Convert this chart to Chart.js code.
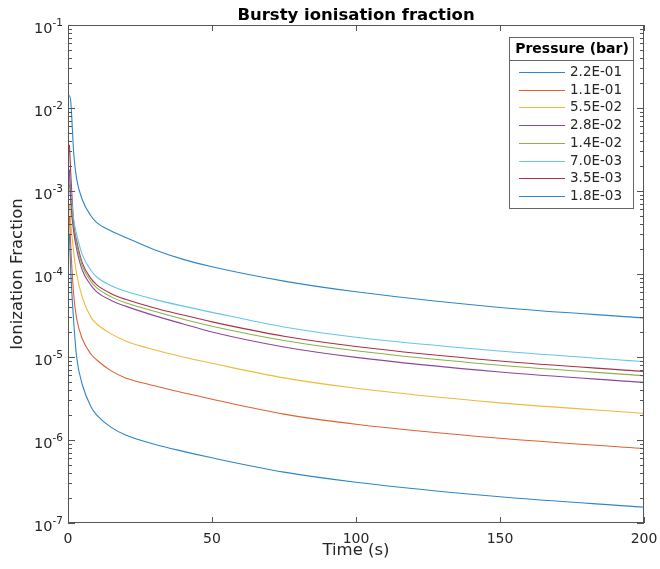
<!DOCTYPE html>
<html>
<head>
<meta charset="utf-8">
<script src="https://cdn.jsdelivr.net/npm/chart.js@4.4.1/dist/chart.umd.min.js"></script>
<style>
  html, body { margin: 0; padding: 0; background: #fff; }
  #wrap { width: 660px; height: 569px; }
</style>
</head>
<body>
<div id="wrap"><canvas id="ionChart" width="660" height="569"></canvas></div>
<script>
// time axis (s)
const times = [0, 0.5, 1, 2, 3, 5, 8, 10, 15, 20, 30, 40, 50, 75, 100, 150, 200];

// ionisation fraction per pressure
const p22e1 = [null, 3e-4, 1e-4, 2.6e-5, 1.0e-5, 4.6e-6, 2.5e-6, 2.0e-6, 1.42e-6, 1.15e-6, 8.9e-7, 7.3e-7, 6.1e-7, 4.1e-7, 3.1e-7, 2.07e-7, 1.55e-7];
const p11e1 = [null, 5e-4, 2e-4, 5.5e-5, 2.9e-5, 1.65e-5, 1.08e-5, 9.2e-6, 6.8e-6, 5.6e-6, 4.5e-6, 3.7e-6, 3.1e-6, 2.05e-6, 1.55e-6, 1.05e-6, 7.88e-7];
const p55e2 = [null, 7e-4, 4e-4, 1.8e-4, 1.0e-4, 5.2e-5, 3.0e-5, 2.5e-5, 1.9e-5, 1.56e-5, 1.22e-5, 1.0e-5, 8.4e-6, 5.6e-6, 4.2e-6, 2.8e-6, 2.09e-6];
const p28e2 = [null, 1.8e-3, 7e-4, 3.2e-4, 2.0e-4, 1.1e-4, 7.3e-5, 6.1e-5, 4.8e-5, 4.1e-5, 3.15e-5, 2.5e-5, 2.0e-5, 1.32e-5, 9.9e-6, 6.6e-6, 4.94e-6];
const p14e2 = [null, 1.2e-3, 8e-4, 3.6e-4, 2.3e-4, 1.25e-4, 8.1e-5, 6.8e-5, 5.3e-5, 4.5e-5, 3.55e-5, 2.85e-5, 2.35e-5, 1.58e-5, 1.19e-5, 7.95e-6, 5.95e-6];
const p70e3 = [null, 1.8e-3, 1.0e-3, 4.5e-4, 3.0e-4, 1.7e-4, 1.1e-4, 9.2e-5, 7.2e-5, 6.2e-5, 4.95e-5, 4.1e-5, 3.45e-5, 2.3e-5, 1.73e-5, 1.18e-5, 8.8e-6];
const p35e3 = [null, 3.6e-3, 1.5e-3, 4.0e-4, 2.5e-4, 1.35e-4, 8.8e-5, 7.4e-5, 5.8e-5, 4.95e-5, 3.9e-5, 3.2e-5, 2.65e-5, 1.78e-5, 1.34e-5, 8.95e-6, 6.7e-6];
const p18e3 = [1.4e-2, 1.4e-2, 1.15e-2, 2.8e-3, 1.4e-3, 7.8e-4, 5.0e-4, 4.15e-4, 3.3e-4, 2.76e-4, 1.96e-4, 1.5e-4, 1.22e-4, 8.2e-5, 6.1e-5, 3.95e-5, 2.96e-5];

const pressureLabels = ['2.2E-01', '1.1E-01', '5.5E-02', '2.8E-02', '1.4E-02', '7.0E-03', '3.5E-03', '1.8E-03'];
const seriesValues = [p22e1, p11e1, p55e2, p28e2, p14e2, p70e3, p35e3, p18e3];
const seriesColors = ['#2f85c8', '#dc6333', '#eeba3c', '#8e479b', '#85b545', '#63c5ee', '#ab3048', '#2f85c8'];

const xTicks = [0, 50, 100, 150, 200];
const yDecades = [1e-7, 1e-6, 1e-5, 1e-4, 1e-3, 1e-2, 1e-1];

const axisColor = '#555';
const textColor = '#262626';
const fontFamily = '"DejaVu Sans", sans-serif';

// box, inward ticks, power-of-ten labels, title and legend, MATLAB style
const matlabAxes = {
  id: 'matlabAxes',
  afterDraw(chart) {
    const ctx = chart.ctx;
    const a = chart.chartArea;
    const xs = chart.scales.x;
    const ys = chart.scales.y;
    ctx.save();
    ctx.strokeStyle = axisColor;
    ctx.lineWidth = 1;
    ctx.strokeRect(a.left + 0.5, a.top + 0.5, a.right - a.left - 1, a.bottom - a.top - 1);

    ctx.beginPath();
    xTicks.forEach(v => {
      const px = Math.round(xs.getPixelForValue(v)) + 0.5;
      ctx.moveTo(px, a.bottom); ctx.lineTo(px, a.bottom - 6);
      ctx.moveTo(px, a.top); ctx.lineTo(px, a.top + 6);
    });
    yDecades.forEach((d, i) => {
      const py = Math.round(ys.getPixelForValue(d)) + 0.5;
      ctx.moveTo(a.left, py); ctx.lineTo(a.left + 7, py);
      ctx.moveTo(a.right, py); ctx.lineTo(a.right - 7, py);
      if (i < yDecades.length - 1) {
        for (let k = 2; k <= 9; k++) {
          const pm = Math.round(ys.getPixelForValue(d * k)) + 0.5;
          ctx.moveTo(a.left, pm); ctx.lineTo(a.left + 4, pm);
          ctx.moveTo(a.right, pm); ctx.lineTo(a.right - 4, pm);
        }
      }
    });
    ctx.stroke();

    // y tick labels as 10 with a raised exponent
    ctx.fillStyle = textColor;
    ctx.textAlign = 'right';
    ctx.textBaseline = 'alphabetic';
    const rx = a.left - 5;
    yDecades.forEach(d => {
      const py = ys.getPixelForValue(d);
      const ex = String(Math.round(Math.log10(d)));
      ctx.font = '10.5px ' + fontFamily;
      const ew = ctx.measureText(ex).width;
      ctx.fillText(ex, rx, py + 1);
      ctx.font = '14.5px ' + fontFamily;
      ctx.fillText('10', rx - ew, py + 7.5);
    });

    // title
    ctx.fillStyle = '#000';
    ctx.font = 'bold 16.5px ' + fontFamily;
    ctx.textAlign = 'center';
    ctx.textBaseline = 'middle';
    ctx.fillText('Bursty ionisation fraction', (a.left + a.right) / 2, 16);

    // legend
    const lx = 509, ly = 37, lw = 124, lh = 171;
    ctx.fillStyle = '#fff';
    ctx.fillRect(lx, ly, lw, lh);
    ctx.strokeStyle = '#666';
    ctx.strokeRect(lx + 0.5, ly + 0.5, lw, lh);
    ctx.beginPath();
    ctx.moveTo(lx, ly + 23.5); ctx.lineTo(lx + lw, ly + 23.5);
    ctx.stroke();
    ctx.fillStyle = '#000';
    ctx.font = 'bold 14px ' + fontFamily;
    ctx.fillText('Pressure (bar)', lx + lw / 2 + 1, ly + 12);
    ctx.font = '13.5px ' + fontFamily;
    ctx.textAlign = 'left';
    chart.data.datasets.forEach((ds, i) => {
      const ry = Math.round(ly + 35 + i * 17.7) + 0.5;
      ctx.strokeStyle = ds.borderColor;
      ctx.beginPath();
      ctx.moveTo(lx + 10, ry); ctx.lineTo(lx + 56, ry);
      ctx.stroke();
      ctx.fillStyle = textColor;
      ctx.fillText(ds.label, lx + 61, ry);
    });
    ctx.restore();
  }
};

const ctx = document.getElementById('ionChart').getContext('2d');
const ionChart = new Chart(ctx, {
  type: 'line',
  data: {
    labels: times,
    datasets: pressureLabels.map((lab, i) => ({
      label: lab,
      data: times.map((t, j) => ({ x: t, y: seriesValues[i][j] })),
      borderColor: seriesColors[i],
      borderWidth: 1.1,
      pointRadius: 0,
      fill: false,
      cubicInterpolationMode: 'monotone'
    }))
  },
  options: {
    responsive: false,
    animation: false,
    layout: { padding: { top: 25, right: 16, left: 0, bottom: 0 } },
    plugins: {
      legend: { display: false },
      title: { display: false },
      tooltip: { enabled: false }
    },
    scales: {
      x: {
        type: 'linear',
        min: 0,
        max: 200,
        afterBuildTicks: s => { s.ticks = xTicks.map(v => ({ value: v })); },
        afterFit: s => { s.height = 46; },
        grid: { display: false },
        border: { display: false },
        ticks: { color: textColor, font: { family: fontFamily, size: 14 }, padding: 0, maxRotation: 0 },
        title: { display: true, text: 'Time (s)', color: textColor, font: { family: fontFamily, size: 16.5 }, padding: { top: 0, bottom: 8 } }
      },
      y: {
        type: 'logarithmic',
        min: 1e-7,
        max: 1e-1,
        afterBuildTicks: s => { s.ticks = yDecades.map(v => ({ value: v })); },
        afterFit: s => { s.width = 68; },
        grid: { display: false },
        border: { display: false },
        ticks: { display: false },
        title: { display: true, text: 'Ionization Fraction', color: textColor, font: { family: fontFamily, size: 16.5 }, padding: { top: 8, bottom: 0 } }
      }
    }
  },
  plugins: [matlabAxes]
});
</script>
</body>
</html>
